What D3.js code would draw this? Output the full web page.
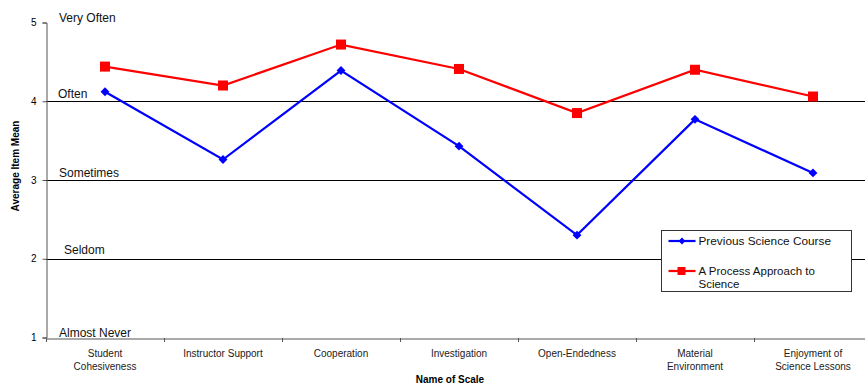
<!DOCTYPE html>
<html>
<head>
<meta charset="utf-8">
<script src="https://cdn.jsdelivr.net/npm/d3@7"></script>
<style>
  body { margin: 0; background: #fff; }
  svg { display: block; font-family: Arial, "Liberation Sans", sans-serif; }
</style>
</head>
<body>
<svg id="chart" width="865" height="390"></svg>
<script>
'use strict';

var categories = [
  ['Student', 'Cohesiveness'],
  ['Instructor Support'],
  ['Cooperation'],
  ['Investigation'],
  ['Open-Endedness'],
  ['Material', 'Environment'],
  ['Enjoyment of', 'Science Lessons']
];
var previousCourse = [4.12, 3.26, 4.39, 3.43, 2.30, 3.77, 3.09];
var processApproach = [4.44, 4.20, 4.72, 4.41, 3.85, 4.40, 4.06];
var yTicks = [1, 2, 3, 4, 5];
var gridValues = [2, 3, 4];
var scaleLabels = [
  {v: 5, text: 'Very Often', dx: 13, dy: -1},
  {v: 4, text: 'Often', dx: 12, dy: -3.5},
  {v: 3, text: 'Sometimes', dx: 13, dy: -3.5},
  {v: 2, text: 'Seldom', dx: 18, dy: -5},
  {v: 1, text: 'Almost Never', dx: 13, dy: -0.5}
];

var svg = d3.select('#chart'),
    plotLeft = 46,
    plotRight = 872,
    plotTop = 22.5,
    plotBottom = 337.5;

var x = d3.scaleBand()
    .domain(d3.range(categories.length))
    .range([plotLeft, plotRight]);
var y = d3.scaleLinear().domain([1, 5]).range([plotBottom, plotTop]);

// horizontal gridlines
svg.append('g').selectAll('line')
    .data(gridValues)
    .enter().append('line')
    .attr('x1', plotLeft).attr('x2', 865)
    .attr('y1', function (d) { return Math.round(y(d)) + 0.5; })
    .attr('y2', function (d) { return Math.round(y(d)) + 0.5; })
    .attr('stroke', '#000').attr('stroke-width', 1);

// y axis
var yAxis = svg.append('g')
    .attr('transform', 'translate(' + (plotLeft + 0.5) + ',0)')
    .call(d3.axisLeft(y).tickValues(yTicks).tickFormat(d3.format('d')).tickSize(4).tickPadding(6));
yAxis.select('.domain').attr('stroke', '#555');
yAxis.selectAll('.tick line').attr('stroke', '#555');
yAxis.selectAll('text').attr('font-size', 10).attr('fill', '#000')
    .attr('font-family', 'Arial, "Liberation Sans", sans-serif');

// x axis
var xAxis = svg.append('g')
    .attr('transform', 'translate(0,' + (Math.round(plotBottom) + 0.5) + ')')
    .call(d3.axisBottom(x).tickSize(0).tickFormat(''));
xAxis.select('.domain').attr('stroke', '#555');
svg.append('g').selectAll('line')
    .data(d3.range(categories.length + 1))
    .enter().append('line')
    .attr('x1', function (d) { return Math.round(plotLeft + d * x.step()) + 0.5; })
    .attr('x2', function (d) { return Math.round(plotLeft + d * x.step()) + 0.5; })
    .attr('y1', Math.round(plotBottom)).attr('y2', Math.round(plotBottom) + 4)
    .attr('stroke', '#555');

// category labels
var catLabels = svg.append('g').selectAll('text')
    .data(categories)
    .enter().append('text')
    .attr('x', function (d, i) { return x(i) + x.bandwidth() / 2; })
    .attr('y', 357)
    .attr('text-anchor', 'middle')
    .attr('font-size', 10)
    .attr('fill', '#222');
catLabels.each(function (d) {
  var t = d3.select(this);
  d.forEach(function (line, k) {
    t.append('tspan')
        .attr('x', t.attr('x'))
        .attr('dy', k === 0 ? 0 : 13)
        .text(line);
  });
});

// scale labels inside the plot
svg.append('g').selectAll('text')
    .data(scaleLabels)
    .enter().append('text')
    .attr('x', function (d) { return plotLeft + d.dx; })
    .attr('y', function (d) { return y(d.v) + d.dy; })
    .attr('font-size', 12)
    .attr('fill', '#111')
    .text(function (d) { return d.text; });

// axis titles
svg.append('text')
    .attr('transform', 'translate(19,166) rotate(-90)')
    .attr('text-anchor', 'middle')
    .attr('font-size', 10).attr('font-weight', 'bold')
    .text('Average Item Mean');
svg.append('text')
    .attr('x', 450).attr('y', 383)
    .attr('text-anchor', 'middle')
    .attr('font-size', 10).attr('font-weight', 'bold')
    .text('Name of Scale');

var line = d3.line()
    .x(function (d, i) { return x(i) + x.bandwidth() / 2; })
    .y(function (d) { return y(d); });

// previous science course (blue diamonds)
svg.append('path')
    .datum(previousCourse)
    .attr('d', line)
    .attr('fill', 'none').attr('stroke', '#0000ff').attr('stroke-width', 2.2);
svg.append('g').selectAll('path')
    .data(previousCourse)
    .enter().append('path')
    .attr('d', d3.symbol().type(d3.symbolDiamond2).size(50))
    .attr('transform', function (d, i) {
      return 'translate(' + (x(i) + x.bandwidth() / 2) + ',' + y(d) + ')';
    })
    .attr('fill', '#0000ff');

// process approach (red squares)
svg.append('path')
    .datum(processApproach)
    .attr('d', line)
    .attr('fill', 'none').attr('stroke', '#ff0000').attr('stroke-width', 2.2);
svg.append('g').selectAll('rect')
    .data(processApproach)
    .enter().append('rect')
    .attr('x', function (d, i) { return x(i) + x.bandwidth() / 2 - 5; })
    .attr('y', function (d) { return y(d) - 5; })
    .attr('width', 10).attr('height', 10)
    .attr('fill', '#ff0000');

// legend
var legend = svg.append('g').attr('transform', 'translate(661.5,230.5)');
legend.append('rect')
    .attr('width', 190).attr('height', 61)
    .attr('fill', '#fff').attr('stroke', '#333');
legend.append('line')
    .attr('x1', 7).attr('x2', 34).attr('y1', 10.5).attr('y2', 10.5)
    .attr('stroke', '#0000ff').attr('stroke-width', 2.2);
legend.append('path')
    .attr('d', d3.symbol().type(d3.symbolDiamond2).size(30))
    .attr('transform', 'translate(20.5,10.5)')
    .attr('fill', '#0000ff');
legend.append('text')
    .attr('x', 37).attr('y', 14.5)
    .attr('font-size', 11.8).attr('fill', '#111')
    .text('Previous Science Course');
legend.append('line')
    .attr('x1', 7).attr('x2', 34).attr('y1', 40.5).attr('y2', 40.5)
    .attr('stroke', '#ff0000').attr('stroke-width', 2.2);
legend.append('rect')
    .attr('x', 16).attr('y', 36.5).attr('width', 8).attr('height', 8)
    .attr('fill', '#ff0000');
var lt = legend.append('text')
    .attr('font-size', 11.5).attr('fill', '#111');
lt.append('tspan').attr('x', 37).attr('y', 44).text('A Process Approach to');
lt.append('tspan').attr('x', 37).attr('y', 57).text('Science');
</script>
</body>
</html>
